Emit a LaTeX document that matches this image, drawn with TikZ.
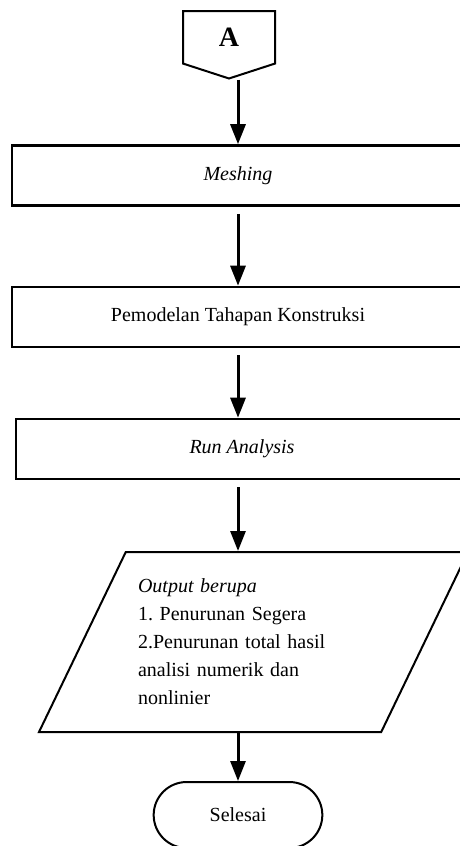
\documentclass[tikz,border=0pt]{standalone}
\usepackage{fontspec}
\setmainfont{Liberation Serif}
\usetikzlibrary{arrows.meta, shapes.geometric, shapes.misc, shapes.symbols}

\begin{document}
\frenchspacing
\begin{tikzpicture}[x=0.5pt,y=-0.5pt,>={Triangle[length=10pt,width=7.5pt]},
 process/.style={rectangle,draw,line width=1.3pt,minimum width=226pt,minimum height=30pt,inner sep=0pt},
 io/.style={trapezium,trapezium left angle=58.1,trapezium right angle=121.9,trapezium stretches body=true,draw,line width=1pt,minimum width=214.5pt,minimum height=90pt,inner xsep=0pt,text width=115.5pt,align=left,font=\fontsize{10}{14}\selectfont},
 term/.style={rounded rectangle,draw,line width=1pt,minimum width=91pt,minimum height=33pt},
 conn/.style={signal,signal to=south,signal pointer angle=144,draw,line width=1pt,minimum width=46pt,minimum height=29pt,font=\fontsize{14}{16}\selectfont\bfseries},
 flow/.style={->,line width=1.5pt}]
  \useasboundingbox (0,0) rectangle (460,846);
  \clip (0,0) rectangle (460,846);

  \node[conn] (A) at (229,10) [anchor=north] {A};
  \node[process] (Mesh) at (238,175.5) {\textit{Meshing}};
  \node[process] (Model) at (238,317) {Pemodelan Tahapan Konstruksi};
  \node[process] (Run) at (242,449) {\textit{Run Analysis}};
  \node[io] (Out) at (253.5,642) {\textit{Output berupa}\\
    1. Penurunan Segera\\
    2.Penurunan total hasil\\
    analisi numerik dan\\
    nonlinier};
  \node[term] (End) at (238,815) {Selesai};

  \draw[flow] (A.south -| Mesh) -- (Mesh.north);
  \foreach \s/\t in {Mesh/Model, Model/Run, Run/Out} {
    \draw[flow, shorten <=3.5pt] (\s.south -| Mesh) -- (\t.north -| Mesh);}
  \draw[flow] (Out.south -| Mesh) -- (End.north);
\end{tikzpicture}
\end{document}
